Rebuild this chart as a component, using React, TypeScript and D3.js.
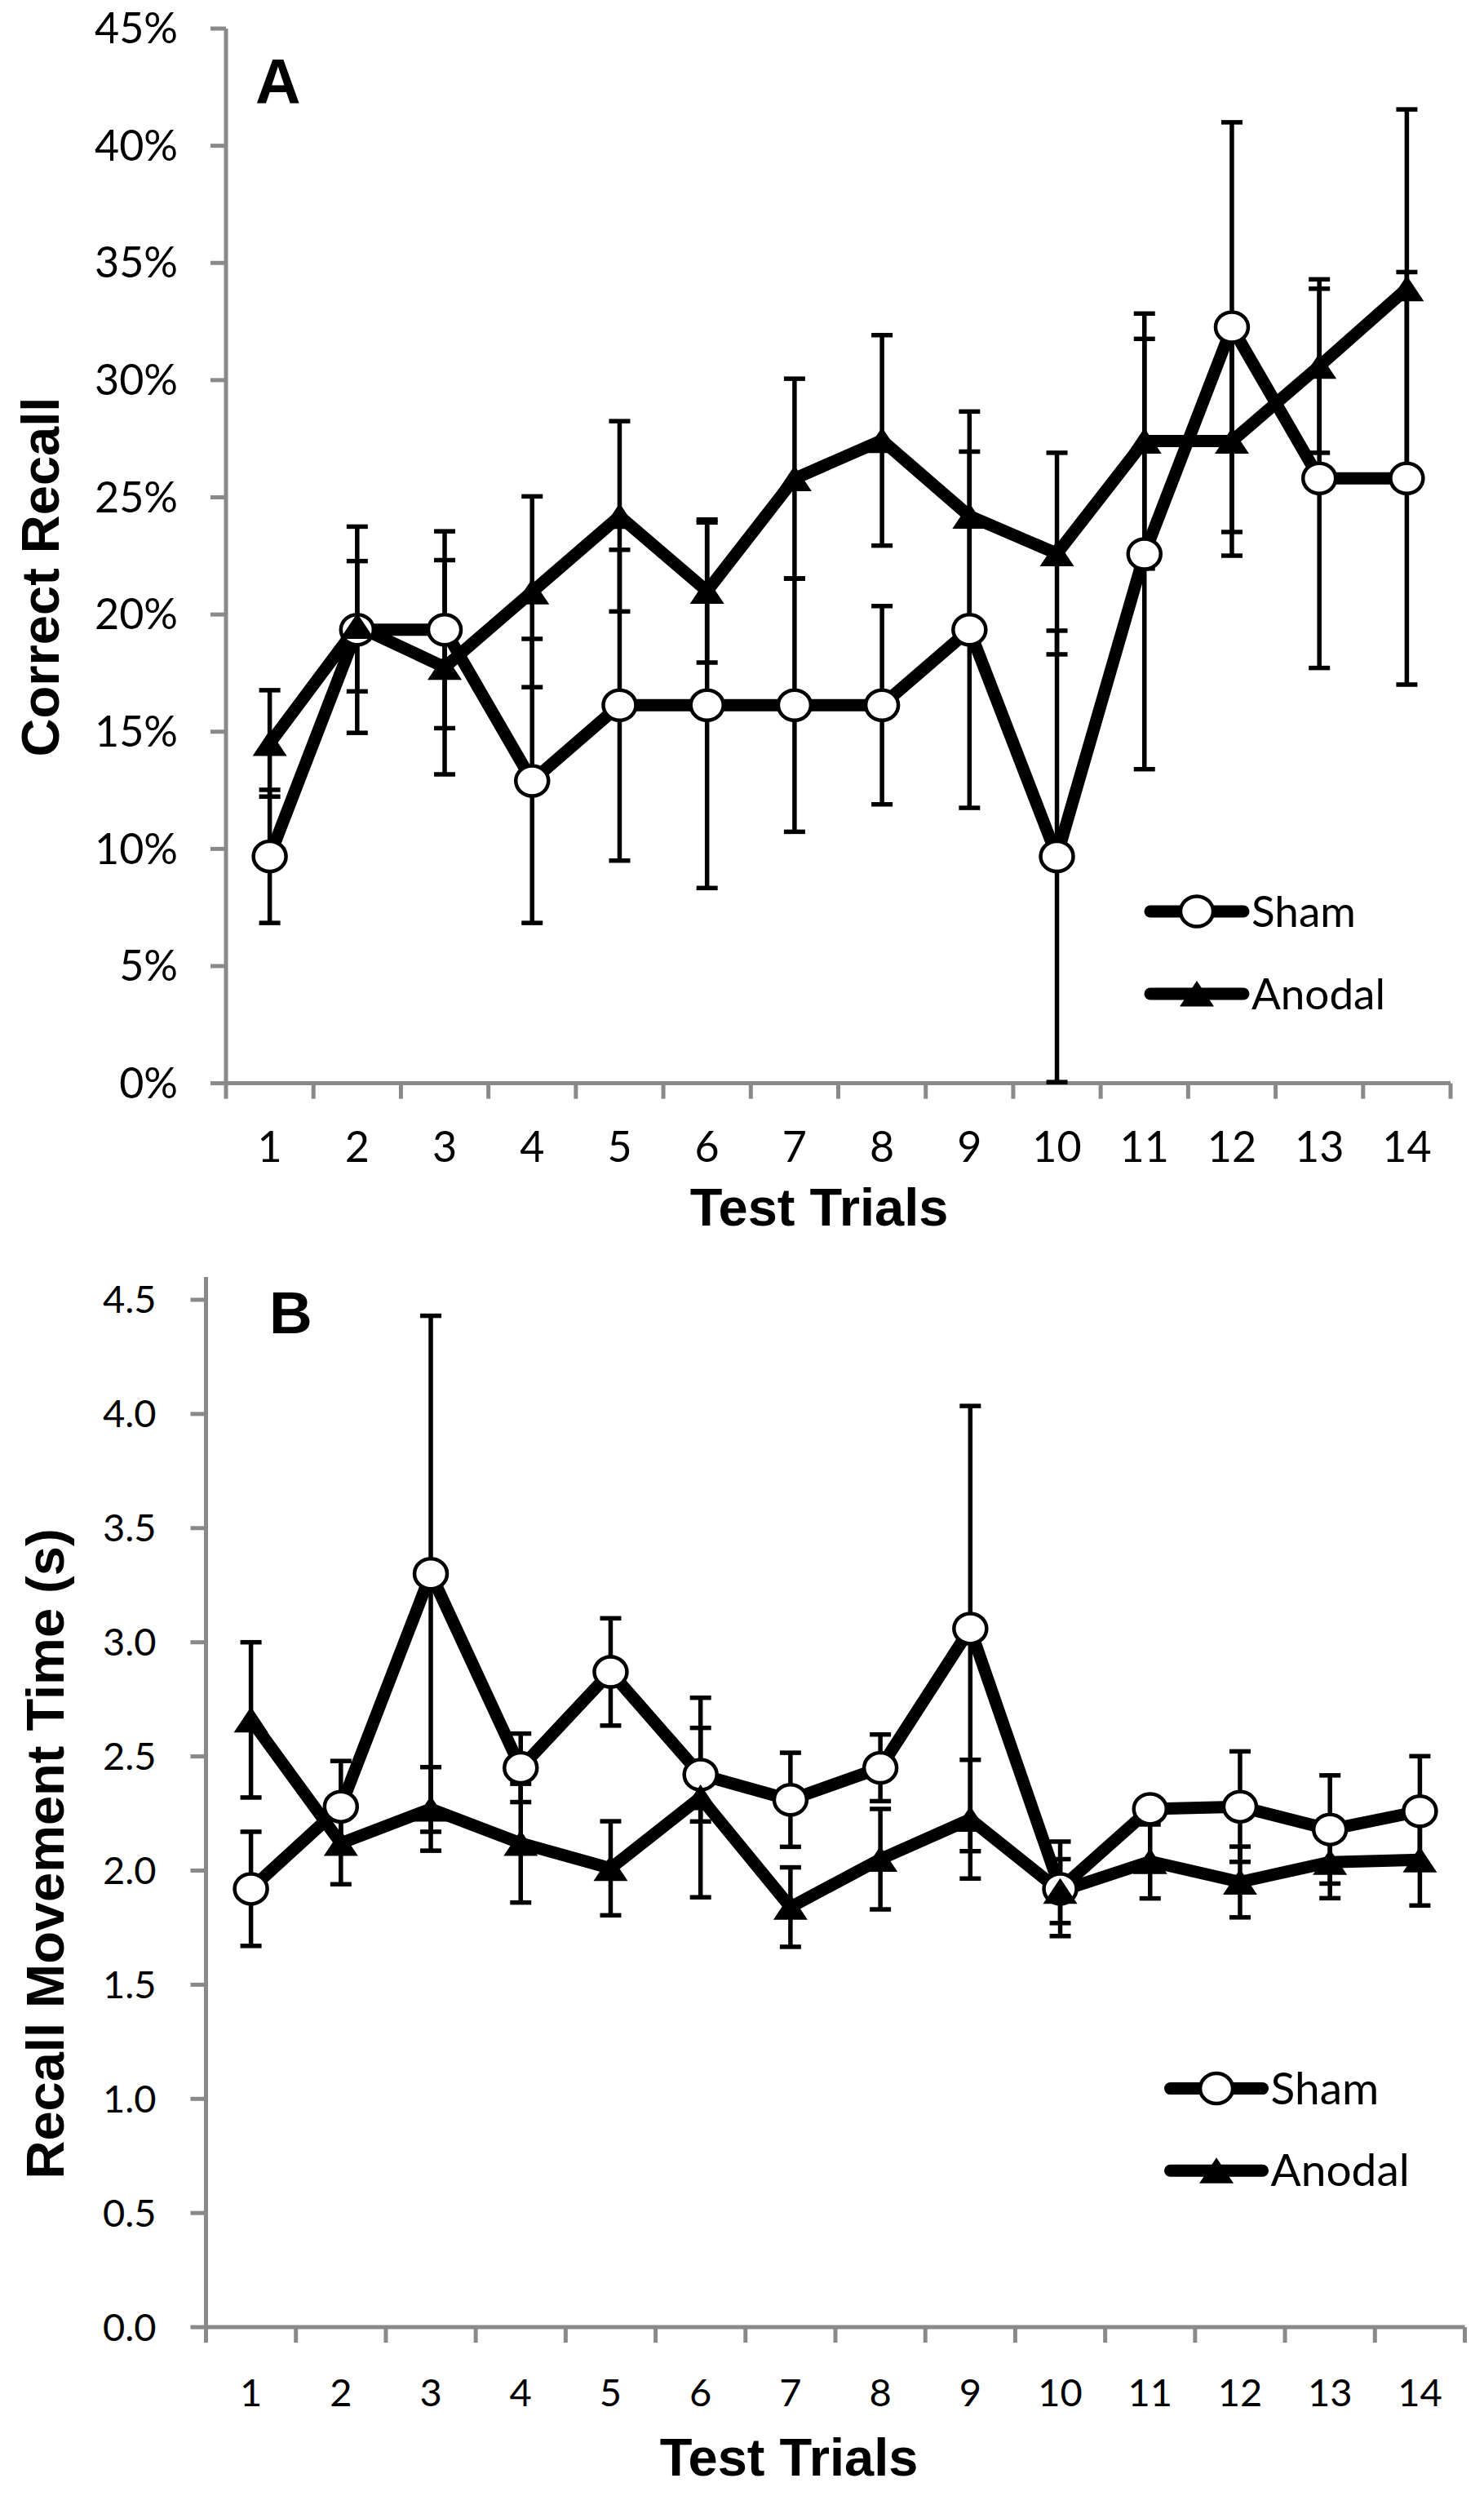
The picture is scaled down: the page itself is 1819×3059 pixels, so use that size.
import React, { useEffect, useRef } from "react";
import * as d3 from "d3";

// trial labels shared by both panels
const trials = ["1", "2", "3", "4", "5", "6", "7", "8", "9", "10", "11", "12", "13", "14"];

// panel A: correct recall (%)
const recallTicks = [0, 5, 10, 15, 20, 25, 30, 35, 40, 45];
const shamRecall = [9.68, 19.35, 19.35, 12.9, 16.13, 16.13, 16.13, 16.13, 19.35, 9.68, 22.58, 32.26, 25.81, 25.81];
const shamRecallErr = [2.84, 4.4, 4.2, 6.06, 6.63, 7.8, 5.4, 4.23, 7.6, 9.63, 9.18, 8.74, 8.09, 8.8];
const anodalRecall = [14.5, 19.5, 17.75, 20.97, 24.19, 21.0, 25.8, 27.43, 24.2, 22.6, 27.4, 27.4, 30.6, 33.9];
const anodalRecallErr = [2.27, 2.78, 4.57, 4.07, 4.06, 3.05, 4.26, 4.49, 4.46, 4.3, 5.44, 4.89, 3.7, 7.65];

// panel B: recall movement time (s)
const timeTicks = [0, 0.5, 1, 1.5, 2, 2.5, 3, 3.5, 4, 4.5];
const shamTime = [1.92, 2.28, 3.3, 2.45, 2.87, 2.42, 2.31, 2.45, 3.06, 1.92, 2.27, 2.28, 2.18, 2.26];
const shamTimeErr = [0.25, 0.2, 1.13, 0.15, 0.235, 0.205, 0.206, 0.146, 0.975, 0.207, 0.05, 0.242, 0.237, 0.241];
const anodalTime = [2.66, 2.12, 2.27, 2.12, 2.01, 2.32, 1.84, 2.05, 2.225, 1.91, 2.04, 1.95, 2.037, 2.047];
const anodalTimeErr = [0.34, 0.18, 0.183, 0.26, 0.206, 0.437, 0.174, 0.22, 0.26, 0.14, 0.162, 0.155, 0.158, 0.2];

const seriesNames = ["Sham", "Anodal"];

const W = 1819;
const H = 3059;
const tickFont = "Lato, 'Open Sans', sans-serif";
const titleFont = "Arial, 'Liberation Sans', sans-serif";
const axisGrey = "#898989";

interface Panel {
  letter: string;
  sham: number[];
  shamErr: number[];
  anodal: number[];
  anodalErr: number[];
  ticks: number[];
  yMax: number;
  fmt: (d: number) => string;
  yTitle: string;
  left: number;
  right: number;
  bottom: number;
  top: number;
  tickFs: number;
  labelRight: number;
  xLabelY: number;
  xTitleX: number;
  xTitleY: number;
  yTitleX: number;
  yTitleY: number;
  letterX: number;
  letterY: number;
  letterFs: number;
  legendX: [number, number];
  legendY: [number, number];
  legendFs: number;
}

const panels: Panel[] = [
  {
    letter: "A",
    sham: shamRecall,
    shamErr: shamRecallErr,
    anodal: anodalRecall,
    anodalErr: anodalRecallErr,
    ticks: recallTicks,
    yMax: 45,
    fmt: (d) => `${d}%`,
    yTitle: "Correct Recall",
    left: 277,
    right: 1778,
    bottom: 1327.6,
    top: 35,
    tickFs: 52,
    labelRight: 218,
    xLabelY: 1423.5,
    xTitleX: 1004,
    xTitleY: 1502,
    yTitleX: 72,
    yTitleY: 707,
    letterX: 313,
    letterY: 127,
    letterFs: 77,
    legendX: [1410, 1524],
    legendY: [1117, 1218],
    legendFs: 53,
  },
  {
    letter: "B",
    sham: shamTime,
    shamErr: shamTimeErr,
    anodal: anodalTime,
    anodalErr: anodalTimeErr,
    ticks: timeTicks,
    yMax: 4.6,
    fmt: d3.format(".1f"),
    yTitle: "Recall Movement Time (s)",
    left: 252.5,
    right: 1795.5,
    bottom: 2852.1,
    top: 1565,
    tickFs: 47,
    labelRight: 191.5,
    xLabelY: 2949,
    xTitleX: 967,
    xTitleY: 3034,
    yTitleX: 78,
    yTitleY: 2272,
    letterX: 330,
    letterY: 1634,
    letterFs: 73,
    legendX: [1434.5, 1547.6],
    legendY: [2559.6, 2660.2],
    legendFs: 55,
  },
];

const drawPanel = (svg: d3.Selection<SVGSVGElement, unknown, null, undefined>, p: Panel) => {
  const g = svg.append("g");

  const x = d3.scaleBand<string>().domain(trials).range([p.left, p.right]).padding(0);
  const y = d3.scaleLinear().domain([0, p.yMax]).range([p.bottom, p.top]);
  const cx = (i: number) => (x(trials[i]) as number) + x.bandwidth() / 2;

  // axes
  g.append("line")
    .attr("x1", p.left).attr("x2", p.left)
    .attr("y1", y(p.yMax)).attr("y2", p.bottom)
    .attr("stroke", axisGrey).attr("stroke-width", 5);
  g.append("line")
    .attr("x1", p.left).attr("x2", p.right)
    .attr("y1", p.bottom).attr("y2", p.bottom)
    .attr("stroke", axisGrey).attr("stroke-width", 5);

  g.selectAll(".ytick")
    .data(p.ticks)
    .join("line")
    .attr("x1", p.left - 19).attr("x2", p.left)
    .attr("y1", (d) => y(d)).attr("y2", (d) => y(d))
    .attr("stroke", axisGrey).attr("stroke-width", 5);

  const bounds = [...trials.map((t) => x(t) as number), p.right];
  g.selectAll(".xtick")
    .data(bounds)
    .join("line")
    .attr("x1", (d) => d).attr("x2", (d) => d)
    .attr("y1", p.bottom).attr("y2", p.bottom + 19)
    .attr("stroke", axisGrey).attr("stroke-width", 5);

  g.selectAll(".ylabel")
    .data(p.ticks)
    .join("text")
    .attr("x", p.labelRight)
    .attr("y", (d) => y(d) + p.tickFs * 0.35)
    .attr("text-anchor", "end")
    .attr("font-family", tickFont)
    .attr("font-size", p.tickFs)
    .text((d) => p.fmt(d));

  g.selectAll(".xlabel")
    .data(trials)
    .join("text")
    .attr("x", (_, i) => cx(i))
    .attr("y", p.xLabelY)
    .attr("text-anchor", "middle")
    .attr("font-family", tickFont)
    .attr("font-size", p.tickFs)
    .text((d) => d);

  // titles
  g.append("text")
    .attr("x", p.xTitleX).attr("y", p.xTitleY)
    .attr("text-anchor", "middle")
    .attr("font-family", titleFont).attr("font-weight", "bold").attr("font-size", 65)
    .text("Test Trials");
  g.append("text")
    .attr("transform", `translate(${p.yTitleX},${p.yTitleY}) rotate(-90)`)
    .attr("text-anchor", "middle")
    .attr("font-family", titleFont).attr("font-weight", "bold").attr("font-size", 65)
    .text(p.yTitle);
  g.append("text")
    .attr("x", p.letterX).attr("y", p.letterY)
    .attr("font-family", titleFont).attr("font-weight", "bold").attr("font-size", p.letterFs)
    .text(p.letter);

  // error bars
  const errBars = (vals: number[], errs: number[]) => {
    const eg = g.append("g").attr("stroke", "#000").attr("stroke-width", 5.5);
    vals.forEach((v, i) => {
      const lo = y(v - errs[i]);
      const hi = y(v + errs[i]);
      eg.append("line").attr("x1", cx(i)).attr("x2", cx(i)).attr("y1", lo).attr("y2", hi);
      eg.append("line").attr("x1", cx(i) - 13).attr("x2", cx(i) + 13).attr("y1", lo).attr("y2", lo);
      eg.append("line").attr("x1", cx(i) - 13).attr("x2", cx(i) + 13).attr("y1", hi).attr("y2", hi);
    });
  };
  errBars(p.sham, p.shamErr);
  errBars(p.anodal, p.anodalErr);

  // lines
  const line = d3
    .line<number>()
    .x((_, i) => cx(i))
    .y((d) => y(d));
  [p.sham, p.anodal].forEach((vals) => {
    g.append("path")
      .datum(vals)
      .attr("fill", "none")
      .attr("stroke", "#000")
      .attr("stroke-width", 15)
      .attr("stroke-linejoin", "round")
      .attr("d", line);
  });

  const circle = (sel: d3.Selection<SVGGElement, unknown, null, undefined>, px: number, py: number) =>
    sel.append("ellipse")
      .attr("cx", px).attr("cy", py)
      .attr("rx", 20).attr("ry", 18.5)
      .attr("fill", "#fff").attr("stroke", "#000").attr("stroke-width", 4.5);
  const triangle = (sel: d3.Selection<SVGGElement, unknown, null, undefined>, px: number, py: number) =>
    sel.append("path")
      .attr("d", `M${px},${py - 16}L${px + 21},${py + 15.5}L${px - 21},${py + 15.5}Z`)
      .attr("fill", "#000");

  const mg = g.append("g");
  p.sham.forEach((v, i) => circle(mg, cx(i), y(v)));
  p.anodal.forEach((v, i) => triangle(mg, cx(i), y(v)));

  // legend
  const lg = g.append("g");
  seriesNames.forEach((name, k) => {
    const ly = p.legendY[k];
    lg.append("line")
      .attr("x1", p.legendX[0]).attr("x2", p.legendX[1])
      .attr("y1", ly).attr("y2", ly)
      .attr("stroke", "#000").attr("stroke-width", 15).attr("stroke-linecap", "round");
    const mx = (p.legendX[0] + p.legendX[1]) / 2;
    if (k === 0) circle(lg, mx, ly);
    else triangle(lg, mx, ly);
    lg.append("text")
      .attr("x", p.legendX[1] + 10)
      .attr("y", ly + p.legendFs * 0.35)
      .attr("font-family", tickFont)
      .attr("font-size", p.legendFs)
      .text(name);
  });
};

const App: React.FC = () => {
  const svgRef = useRef<SVGSVGElement>(null);

  useEffect(() => {
    if (!svgRef.current) return;
    const svg = d3.select(svgRef.current);
    svg.selectAll("*").remove();
    svg.append("rect").attr("width", W).attr("height", H).attr("fill", "#fff");
    panels.forEach((p) => drawPanel(svg, p));
  }, []);

  return (
    <svg
      ref={svgRef}
      width={W}
      height={H}
      viewBox={`0 0 ${W} ${H}`}
      style={{ position: "absolute", left: 0, top: 0, display: "block" }}
    />
  );
};

export default App;
